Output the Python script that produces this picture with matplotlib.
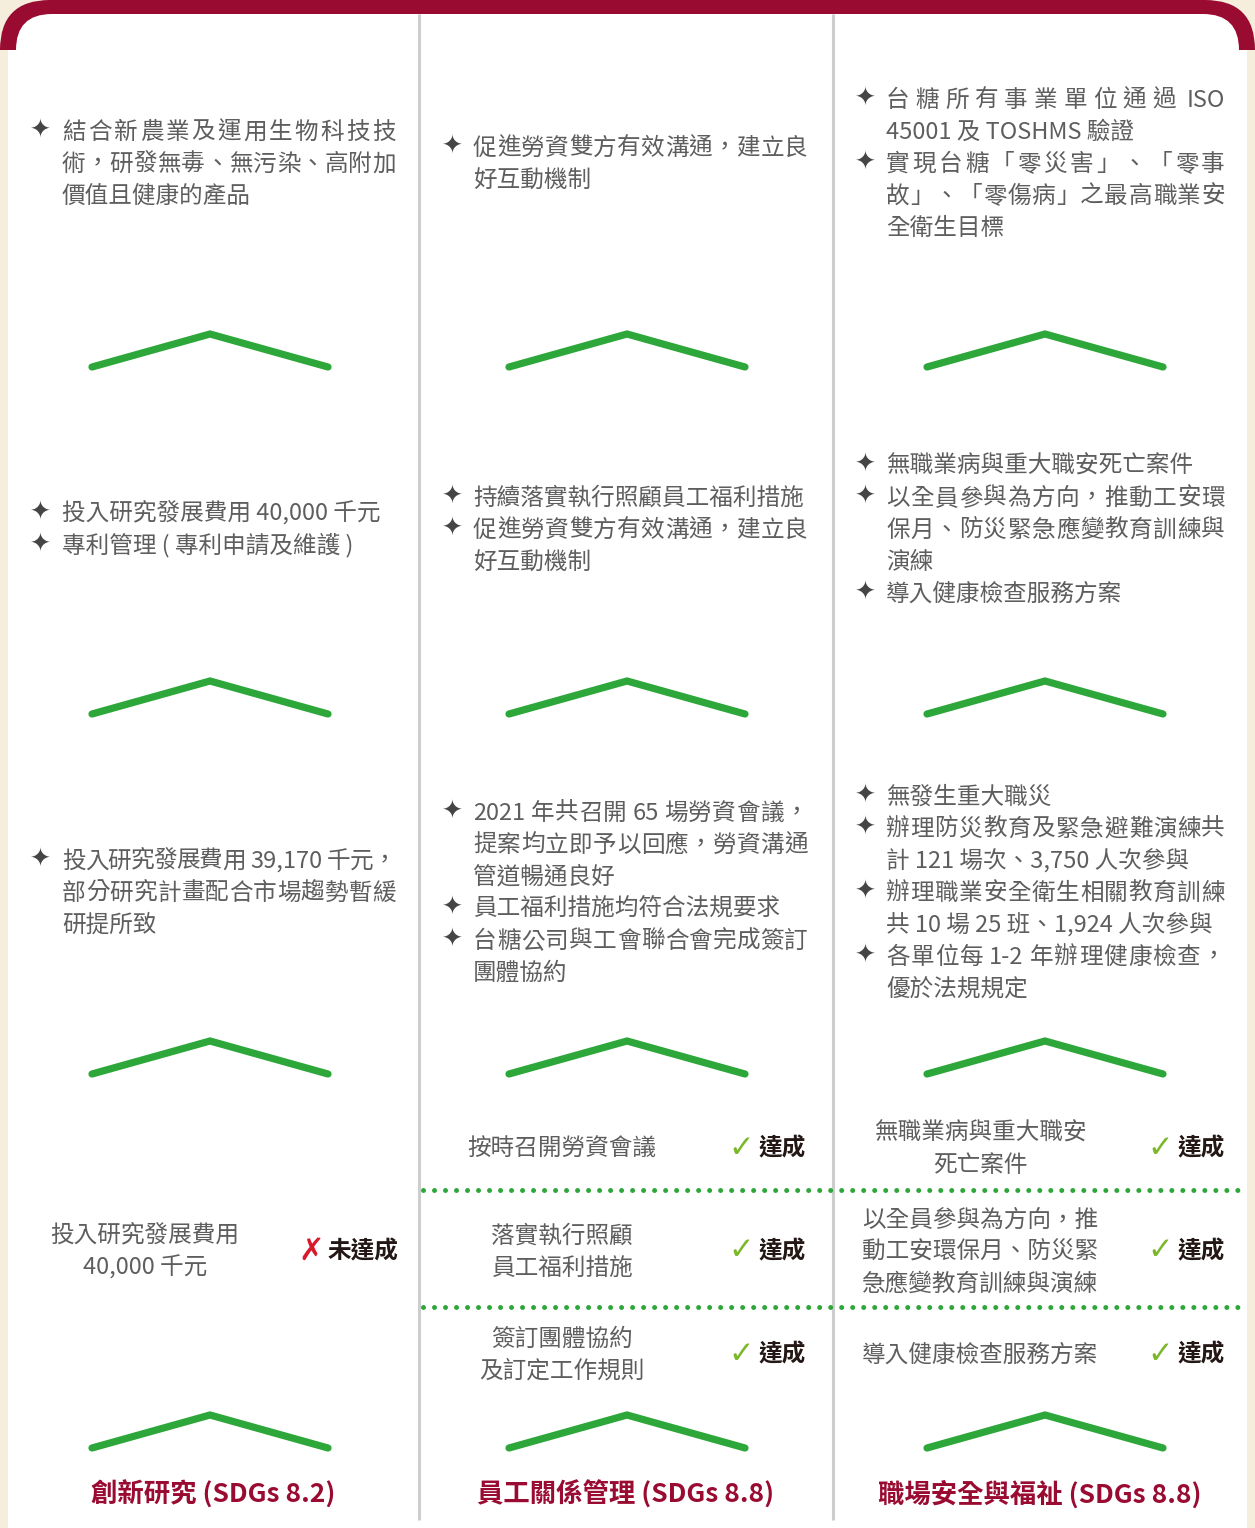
import re
import matplotlib
matplotlib.use("Agg")
import matplotlib.pyplot as plt
from matplotlib.patches import Rectangle, FancyBboxPatch

plt.rcParams['font.family'] = ['Noto Sans CJK TC', 'DejaVu Sans']

# ---------------- data ----------------
pillars = ["創新研究 (SDGs 8.2)", "員工關係管理 (SDGs 8.8)", "職場安全與福祉 (SDGs 8.8)"]

long_term = [
    [["結合新農業及運用生物科技技", "術，研發無毒、無污染、高附加", "價值且健康的產品"]],
    [["促進勞資雙方有效溝通，建立良", "好互動機制"]],
    [["台糖所有事業單位通過 ISO", "45001 及 TOSHMS 驗證"],
     ["實現台糖「零災害」、「零事", "故」、「零傷病」之最高職業安", "全衛生目標"]],
]
mid_term = [
    [["投入研究發展費用 40,000 千元"], ["專利管理 ( 專利申請及維護 )"]],
    [["持續落實執行照顧員工福利措施"], ["促進勞資雙方有效溝通，建立良", "好互動機制"]],
    [["無職業病與重大職安死亡案件"],
     ["以全員參與為方向，推動工安環", "保月、防災緊急應變教育訓練與", "演練"],
     ["導入健康檢查服務方案"]],
]
results_2021 = [
    [["投入研究發展費用 39,170 千元，", "部分研究計畫配合市場趨勢暫緩", "研提所致"]],
    [["2021 年共召開 65 場勞資會議，", "提案均立即予以回應，勞資溝通", "管道暢通良好"],
     ["員工福利措施均符合法規要求"],
     ["台糖公司與工會聯合會完成簽訂", "團體協約"]],
    [["無發生重大職災"],
     ["辦理防災教育及緊急避難演練共", "計 121 場次、3,750 人次參與"],
     ["辦理職業安全衛生相關教育訓練", "共 10 場 25 班、1,924 人次參與"],
     ["各單位每 1-2 年辦理健康檢查，", "優於法規規定"]],
]
goals_2021 = [
    [["投入研究發展費用", "40,000 千元"]],
    [["按時召開勞資會議"], ["落實執行照顧", "員工福利措施"], ["簽訂團體協約", "及訂定工作規則"]],
    [["無職業病與重大職安", "死亡案件"],
     ["以全員參與為方向，推", "動工安環保月、防災緊", "急應變教育訓練與演練"],
     ["導入健康檢查服務方案"]],
]
goals_achieved = [[False], [True, True, True], [True, True, True]]
goal_slots = [[1], [0, 1, 2], [0, 1, 2]]

# ---------------- style / layout ----------------
BEIGE = "#f6eedd"
MAROON = "#9a0b32"
GREEN = "#2ea73a"
GRAY_TXT = "#5e5e5e"
BULLET_C = "#454545"
SEP_C = "#cdcdcd"
CHECK_C = "#7bb829"
CROSS_C = "#d7192b"
DARK = "#231815"

W, H = 1255, 1528
FS = 17
EM = FS * 100 / 72
BASE_OFF = 0.37 * EM
LINE = 32

BULLET_X = [40, 452, 865]
TEXT_X = [62, 473, 886]
RIGHT_X = [396, 808, 1225]
CHEV_X = [210, 627, 1045]
TITLE_X = [213, 626, 1040]
GOAL_X = [145, 562, 980]
MARK_X = [311, 741, 1160]
STATUS_X = [328, 758, 1177]
BLOCK_Y = [162, 528, 891]
CHEV_Y = [(334, 367), (681, 714), (1041, 1074), (1415, 1448)]
GOAL_Y = [1147, 1250, 1353]
SEP_Y = [1190, 1307]
TITLE_Y = 1492
VLINE_X = [419, 833]

fig = plt.figure(figsize=(W / 100, H / 100), dpi=100)
fig.patch.set_facecolor(BEIGE)
ax = fig.add_axes([0, 0, 1, 1])
ax.set_xlim(0, W)
ax.set_ylim(H, 0)
ax.axis('off')

# frame
ax.add_patch(FancyBboxPatch((0, 0), W, 300, boxstyle="round,pad=0,rounding_size=50",
                            fc=MAROON, ec='none', zorder=0))
ax.add_patch(Rectangle((0, 50), 8, H, fc=BEIGE, ec='none', zorder=0.5))
ax.add_patch(Rectangle((W - 8, 50), 8, H, fc=BEIGE, ec='none', zorder=0.5))
ax.add_patch(Rectangle((8, 50), W - 16, H, fc='white', ec='none', zorder=0.6))
ax.add_patch(FancyBboxPatch((16, 14), W - 32, 400, boxstyle="round,pad=0,rounding_size=36",
                            fc='white', ec='none', zorder=0.7))
for vx in VLINE_X:
    ax.plot([vx, vx], [14, 1520], color=SEP_C, lw=2.2, zorder=1, solid_capstyle='butt')

fig.canvas.draw()
renderer = fig.canvas.get_renderer()

TXT_KW = dict(fontsize=FS, color=GRAY_TXT)


def ink_w(s, **kw):
    t = ax.text(0, 0, s, **kw)
    w = t.get_window_extent(renderer).width
    t.remove()
    return w


def advance(s, **kw):
    return ink_w("|" + s + "|", **kw) - ink_w("||", **kw)


def draw_justified(x0, x1, yb, line, **kw):
    toks = re.findall(r'[A-Za-z0-9,.\-]+|\s+|.', line)
    advs = [advance(t, **kw) for t in toks]
    anchors = [i for i, t in enumerate(toks) if not t.isspace()]
    natural = sum(advs)
    extra = (x1 - x0 - natural) / max(len(anchors) - 1, 1)
    pen, k = x0, 0
    for i, t in enumerate(toks):
        if not t.isspace():
            ax.text(pen + k * extra, yb, t, ha='left', va='baseline', zorder=3, **kw)
            k += 1
        pen += advs[i]


def draw_block(col, yc, items):
    lines = [(j, ln, len(it) - 1) for it in items for j, ln in enumerate(it)]
    n = len(lines)
    y0 = yc - (n - 1) * LINE / 2
    for idx, (j, ln, last) in enumerate(lines):
        y = y0 + idx * LINE
        if j == 0:
            ax.text(BULLET_X[col], y + 1, "✦", ha='center', va='center', fontsize=18,
                    color=BULLET_C, family=['DejaVu Sans'], zorder=3)
        if j < last:
            draw_justified(TEXT_X[col], RIGHT_X[col], y + BASE_OFF, ln, **TXT_KW)
        else:
            ax.text(TEXT_X[col], y + BASE_OFF, ln, ha='left', va='baseline', zorder=3, **TXT_KW)


for row, data in enumerate([long_term, mid_term, results_2021]):
    for col in range(3):
        draw_block(col, BLOCK_Y[row], data[col])

# chevrons
for (yt, yb) in CHEV_Y:
    for cx in CHEV_X:
        ax.plot([cx - 118, cx, cx + 118], [yb, yt, yb], color=GREEN, lw=5.2,
                solid_capstyle='round', solid_joinstyle='miter', zorder=2)

# dotted separators
for sy in SEP_Y:
    ax.plot([423, 1248], [sy, sy], color=GREEN, lw=3.6, linestyle=(0, (0.001, 2.2)),
            dash_capstyle='round', zorder=2)

# 2021 goals
for col in range(3):
    for g, slot, ok in zip(goals_2021[col], goal_slots[col], goals_achieved[col]):
        yc = GOAL_Y[slot]
        n = len(g)
        for i, ln in enumerate(g):
            y = yc - (n - 1) * LINE / 2 + i * LINE
            ax.text(GOAL_X[col], y + BASE_OFF, ln, ha='center', va='baseline', zorder=3, **TXT_KW)
        mark = "✓" if ok else "✗"
        ax.text(MARK_X[col], yc + 1, mark, ha='center', va='center', fontsize=22,
                fontweight='bold', color=CHECK_C if ok else CROSS_C,
                family=['DejaVu Sans'], zorder=3)
        ax.text(STATUS_X[col], yc + BASE_OFF, "達成" if ok else "未達成", ha='left',
                va='baseline', fontsize=FS, fontweight='bold', color=DARK, zorder=3)

# pillar titles
for col, name in enumerate(pillars):
    ax.text(TITLE_X[col], TITLE_Y + 0.37 * 20 * 100 / 72, name, ha='center', va='baseline',
            fontsize=19, fontweight='bold', color=MAROON, zorder=3)

fig.savefig("out.png", dpi=100, facecolor=BEIGE)
